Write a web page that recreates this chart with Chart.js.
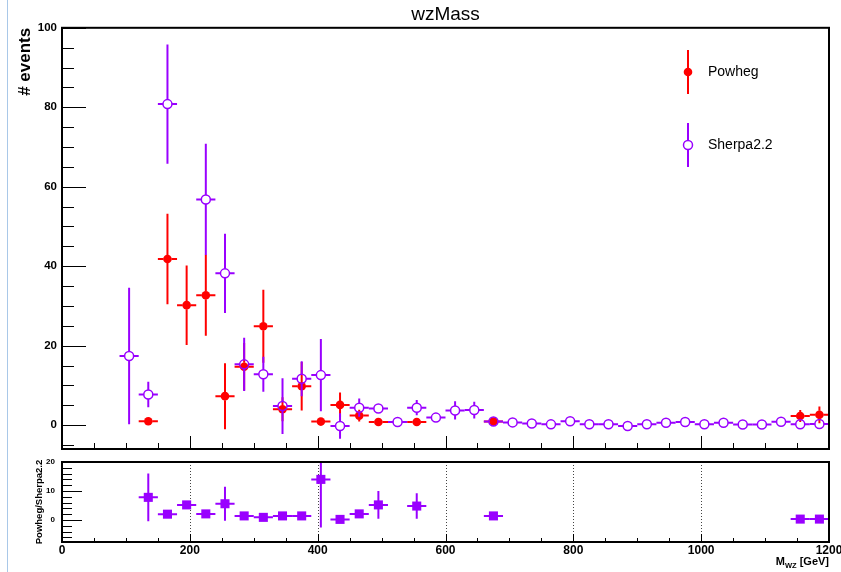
<!DOCTYPE html>
<html>
<head>
<meta charset="utf-8">
<title>wzMass</title>
<script src="https://cdn.jsdelivr.net/npm/chart.js@4.4.1/dist/chart.umd.min.js"></script>
<style>
  html, body { margin: 0; padding: 0; background: #fff; overflow: hidden; }
  #wrap { position: relative; width: 841px; height: 572px; }
  #edge { position: absolute; left: 7px; top: 0; width: 1px; height: 572px; background: #a9c8e8; }
  #top { position: absolute; left: 0; top: 0; }
  #bot { position: absolute; left: 0; top: 455px; }
</style>
</head>
<body>
<div id="wrap">
  <canvas id="top" width="841" height="455" style="width:841px;height:455px"></canvas>
  <canvas id="bot" width="841" height="117" style="width:841px;height:117px"></canvas>
  <div id="edge"></div>
</div>
<script>
// bins are 30 GeV wide
const binWidth = 30;
const binCenters = [105, 135, 165, 195, 225, 255, 285, 315, 345, 375, 405, 435, 465, 495, 525, 555, 585, 615, 645, 675,
  705, 735, 765, 795, 825, 855, 885, 915, 945, 975, 1005, 1035, 1065, 1095, 1125, 1155, 1185];

const powhegValues = [null, 1.0, 41.8, 30.2, 32.7, 7.3, 14.7, 24.9, 4.0, 9.8, 0.9, 5.1, 2.4, 0.8, null, 0.8, null, null, null, 0.9,
  null, null, null, null, null, null, null, null, null, null, null, null, null, null, null, 2.3, 2.6];
const powhegErrors = [null, 0.7, 11.4, 10.0, 10.2, 8.3, 6.0, 9.2, 3.0, 6.1, 0.8, 3.1, 1.5, 0.8, null, 0.8, null, null, null, 0.8,
  null, null, null, null, null, null, null, null, null, null, null, null, null, null, null, 1.5, 2.1];

const sherpaValues = [17.4, 7.7, 80.8, null, 56.8, 38.2, 15.3, 12.8, 4.8, 11.7, 12.6, -0.2, 4.4, 4.2, 0.8, 4.4, 1.9, 3.7, 3.8, 0.9,
  0.7, 0.4, 0.2, 1.0, 0.25, 0.25, -0.2, 0.25, 0.6, 0.8, 0.25, 0.6, 0.15, 0.15, 0.85, 0.25, 0.3];
const sherpaErrors = [17.2, 3.2, 15.0, null, 14.0, 10.0, 6.7, 4.4, 7.0, 4.4, 9.1, 3.2, 2.3, 0.6, 0.4, 1.9, 0.5, 2.3, 2.1, 0.4,
  0.4, 0.4, 0.4, 0.4, 0.4, 0.4, 0.4, 0.4, 0.4, 0.4, 0.4, 0.4, 0.4, 0.4, 0.4, 0.4, 0.4];

const ratioCenters = [135, 165, 195, 225, 255, 285, 315, 345, 375, 405, 435, 465, 495, 555, 675, 1155, 1185];
const ratioValues = [7.8, 2.0, 5.2, 2.1, 5.6, 1.4, 0.9, 1.4, 1.4, 14.0, 0.2, 2.1, 5.2, 4.8, 1.4, 0.3, 0.3];
const ratioErrors = [8.2, 0.6, 1.0, 0.6, 5.9, 0.6, 0.4, 1.0, 0.5, 16.6, 0.5, 1.0, 4.8, 4.4, 0.5, 0.3, 0.3];

const mainYTicks = [0, 20, 40, 60, 80, 100];
const ratioYTicks = [0, 10, 20];
const xTicks = [0, 200, 400, 600, 800, 1000, 1200];

const RED = '#ff0000';
const VIOLET = '#9900ff';
const FONT = "'Liberation Sans', Arial, Helvetica, sans-serif";

function points(xs, ys, errs) {
  const out = [];
  xs.forEach((x, i) => {
    if (ys[i] === null) return;
    out.push({ x: x, y: ys[i], err: errs[i] });
  });
  return out;
}

// ROOT style error bars: full bin width horizontally, gap at the marker
const errorBars = {
  id: 'errorBars',
  beforeDatasetDraw(chart, args) {
    const ds = chart.data.datasets[args.index];
    const { ctx, chartArea: a } = chart;
    const xs = chart.scales.x, ys = chart.scales.y;
    const gap = ds.errorGap || 0;
    ctx.save();
    ctx.beginPath();
    ctx.rect(a.left, a.top, a.right - a.left, a.bottom - a.top);
    ctx.clip();
    ctx.strokeStyle = ds.borderColor;
    ctx.lineWidth = 2;
    ds.data.forEach((p) => {
      const px = xs.getPixelForValue(p.x), py = ys.getPixelForValue(p.y);
      const x0 = xs.getPixelForValue(p.x - binWidth / 2);
      const x1 = xs.getPixelForValue(p.x + binWidth / 2);
      const yHi = ys.getPixelForValue(p.y + p.err);
      const yLo = ys.getPixelForValue(p.y - p.err);
      ctx.beginPath();
      ctx.moveTo(x0, py); ctx.lineTo(px - gap, py);
      ctx.moveTo(px + gap, py); ctx.lineTo(x1, py);
      if (yHi < py - gap) { ctx.moveTo(px, py - gap); ctx.lineTo(px, yHi); }
      if (yLo > py + gap) { ctx.moveTo(px, py + gap); ctx.lineTo(px, yLo); }
      ctx.stroke();
    });
    ctx.restore();
  }
};

// frame, inside ticks and dotted grid like a ROOT pad
const frameTicks = {
  id: 'frameTicks',
  beforeDatasetsDraw(chart, args, o) {
    if (!o.grid) return;
    const { ctx, chartArea: a } = chart;
    ctx.save();
    ctx.strokeStyle = '#444';
    ctx.lineWidth = 1;
    ctx.setLineDash([1, 2]);
    o.grid.forEach((v) => {
      const x = Math.round(chart.scales.x.getPixelForValue(v)) + 0.5;
      ctx.beginPath(); ctx.moveTo(x, a.top); ctx.lineTo(x, a.bottom); ctx.stroke();
    });
    ctx.restore();
  },
  afterDatasetsDraw(chart, args, o) {
    const { ctx, chartArea: a } = chart;
    const xs = chart.scales.x, ys = chart.scales.y;
    ctx.save();
    ctx.strokeStyle = '#000';
    ctx.lineWidth = 1;
    ctx.beginPath();
    for (let v = 0; v <= 1200; v += 50) {
      const x = Math.round(xs.getPixelForValue(v)) + 0.5;
      const len = v % 200 === 0 ? o.xMajor : o.xMinor;
      ctx.moveTo(x, a.bottom); ctx.lineTo(x, a.bottom - len);
    }
    for (let v = o.yFrom; v <= o.yTo; v += o.yStep) {
      const y = Math.round(ys.getPixelForValue(v)) + 0.5;
      const len = v % o.yMajorEvery === 0 ? o.yMajor : o.yMinor;
      ctx.moveTo(a.left, y); ctx.lineTo(a.left + len, y);
    }
    ctx.stroke();
    ctx.lineWidth = 2;
    ctx.strokeRect(a.left, a.top, a.right - a.left, a.bottom - a.top);
    ctx.restore();
  }
};

const legendBox = {
  id: 'legendBox',
  afterDraw(chart, args, o) {
    const ctx = chart.ctx;
    ctx.save();
    chart.data.datasets.forEach((ds, i) => {
      const y = o.rows[i];
      ctx.strokeStyle = ds.borderColor;
      ctx.lineWidth = 2;
      ctx.beginPath();
      ctx.moveTo(o.x, y - o.bar); ctx.lineTo(o.x, y - ds.errorGap);
      ctx.moveTo(o.x, y + ds.errorGap); ctx.lineTo(o.x, y + o.bar);
      ctx.stroke();
      ctx.beginPath();
      ctx.arc(o.x, y, ds.pointRadius, 0, Math.PI * 2);
      if (ds.pointBorderWidth > 0) {
        ctx.lineWidth = ds.pointBorderWidth;
        ctx.stroke();
      } else {
        ctx.fillStyle = ds.backgroundColor;
        ctx.fill();
      }
      ctx.fillStyle = '#000';
      ctx.font = '14px ' + FONT;
      ctx.textBaseline = 'middle';
      ctx.fillText(ds.label, o.x + 20, y);
    });
    ctx.restore();
  }
};

const xTitle = {
  id: 'xTitle',
  afterDraw(chart) {
    const ctx = chart.ctx;
    const right = chart.chartArea.right;
    const base = 110;
    ctx.save();
    ctx.fillStyle = '#000';
    ctx.textBaseline = 'alphabetic';
    ctx.font = 'bold 11px ' + FONT;
    const tail = ' [GeV]';
    const wTail = ctx.measureText(tail).width;
    const wM = ctx.measureText('M').width;
    ctx.font = 'bold 7.5px ' + FONT;
    const wSub = ctx.measureText('WZ').width;
    let x = right - wTail - wSub - wM;
    ctx.font = 'bold 11px ' + FONT;
    ctx.fillText('M', x, base);
    ctx.font = 'bold 7.5px ' + FONT;
    ctx.fillText('WZ', x + wM, base + 2.5);
    ctx.font = 'bold 11px ' + FONT;
    ctx.fillText(tail, x + wM + wSub, base);
    ctx.restore();
  }
};

function fixTicks(list) {
  return (scale) => { scale.ticks = list.map((v) => ({ value: v })); };
}
const plain = (v) => String(v);

const mainChart = new Chart(document.getElementById('top'), {
  type: 'scatter',
  data: {
    datasets: [
      {
        label: 'Powheg',
        data: points(binCenters, powhegValues, powhegErrors),
        order: 2,
        borderColor: RED,
        backgroundColor: RED,
        pointStyle: 'circle',
        pointRadius: 4.3,
        pointBorderWidth: 0,
        errorGap: 4
      },
      {
        label: 'Sherpa2.2',
        data: points(binCenters, sherpaValues, sherpaErrors),
        order: 1,
        borderColor: VIOLET,
        backgroundColor: 'rgba(0,0,0,0)',
        pointStyle: 'circle',
        pointRadius: 4.5,
        pointBorderWidth: 1.5,
        errorGap: 4.5
      }
    ]
  },
  options: {
    responsive: false,
    animation: false,
    events: [],
    layout: { padding: { left: 0, right: 12, top: 0, bottom: 4 } },
    plugins: {
      legend: { display: false },
      tooltip: { enabled: false },
      title: {
        display: true,
        text: 'wzMass',
        fullSize: false,
        color: '#000',
        font: { family: FONT, size: 19, weight: 'normal' },
        padding: { top: 3, bottom: 2 }
      },
      frameTicks: { xMajor: 13, xMinor: 6, yFrom: -5, yTo: 100, yStep: 5, yMajorEvery: 20, yMajor: 24, yMinor: 12 },
      legendBox: { x: 688, rows: [72, 145], bar: 22 }
    },
    scales: {
      x: { type: 'linear', display: false, min: 0, max: 1200 },
      y: {
        type: 'linear',
        min: -6,
        max: 100,
        afterBuildTicks: fixTicks(mainYTicks),
        afterFit: (s) => { s.width = 62; s.paddingTop = 0; s.paddingBottom = 0; },
        grid: { display: false, drawTicks: false },
        border: { display: false },
        ticks: { padding: 5, color: '#000', callback: plain, font: { family: FONT, size: 11.5, weight: 'bold' } },
        title: {
          display: true,
          text: '# events',
          align: 'end',
          color: '#000',
          font: { family: FONT, size: 17, weight: 'bold' },
          padding: { top: 15, bottom: 0 }
        }
      }
    }
  },
  plugins: [errorBars, frameTicks, legendBox]
});

const ratioChart = new Chart(document.getElementById('bot'), {
  type: 'scatter',
  data: {
    datasets: [{
      label: 'Powheg/Sherpa2.2',
      data: points(ratioCenters, ratioValues, ratioErrors),
      borderColor: VIOLET,
      backgroundColor: VIOLET,
      pointStyle: 'rect',
      pointRadius: 6.4,
      pointBorderWidth: 0,
      errorGap: 0
    }]
  },
  options: {
    responsive: false,
    animation: false,
    events: [],
    layout: { padding: { left: 0, right: 12, top: 7, bottom: 0 } },
    plugins: {
      legend: { display: false },
      tooltip: { enabled: false },
      frameTicks: { grid: [200, 400, 600, 800, 1000], xMajor: 8, xMinor: 4, yFrom: -6, yTo: 20, yStep: 2, yMajorEvery: 10, yMajor: 20, yMinor: 10 }
    },
    scales: {
      x: {
        type: 'linear',
        min: 0,
        max: 1200,
        afterBuildTicks: fixTicks(xTicks),
        afterFit: (s) => { s.height = 30; s.paddingLeft = 0; s.paddingRight = 0; },
        grid: { display: false, drawTicks: false },
        border: { display: false },
        ticks: { padding: 1, autoSkip: false, maxRotation: 0, color: '#000', callback: plain, font: { family: FONT, size: 12, weight: 'bold' } }
      },
      y: {
        type: 'linear',
        min: -7.6,
        max: 20,
        afterBuildTicks: fixTicks(ratioYTicks),
        afterFit: (s) => { s.width = 62; s.paddingTop = 0; s.paddingBottom = 0; },
        grid: { display: false, drawTicks: false },
        border: { display: false },
        ticks: { padding: 7, color: '#000', callback: plain, font: { family: FONT, size: 8, weight: 'bold' } },
        title: {
          display: true,
          text: 'Powheg/Sherpa2.2',
          color: '#000',
          font: { family: FONT, size: 9.5, weight: 'bold' },
          padding: { top: 34, bottom: 0 }
        }
      }
    }
  },
  plugins: [errorBars, frameTicks, xTitle]
});
</script>
</body>
</html>
